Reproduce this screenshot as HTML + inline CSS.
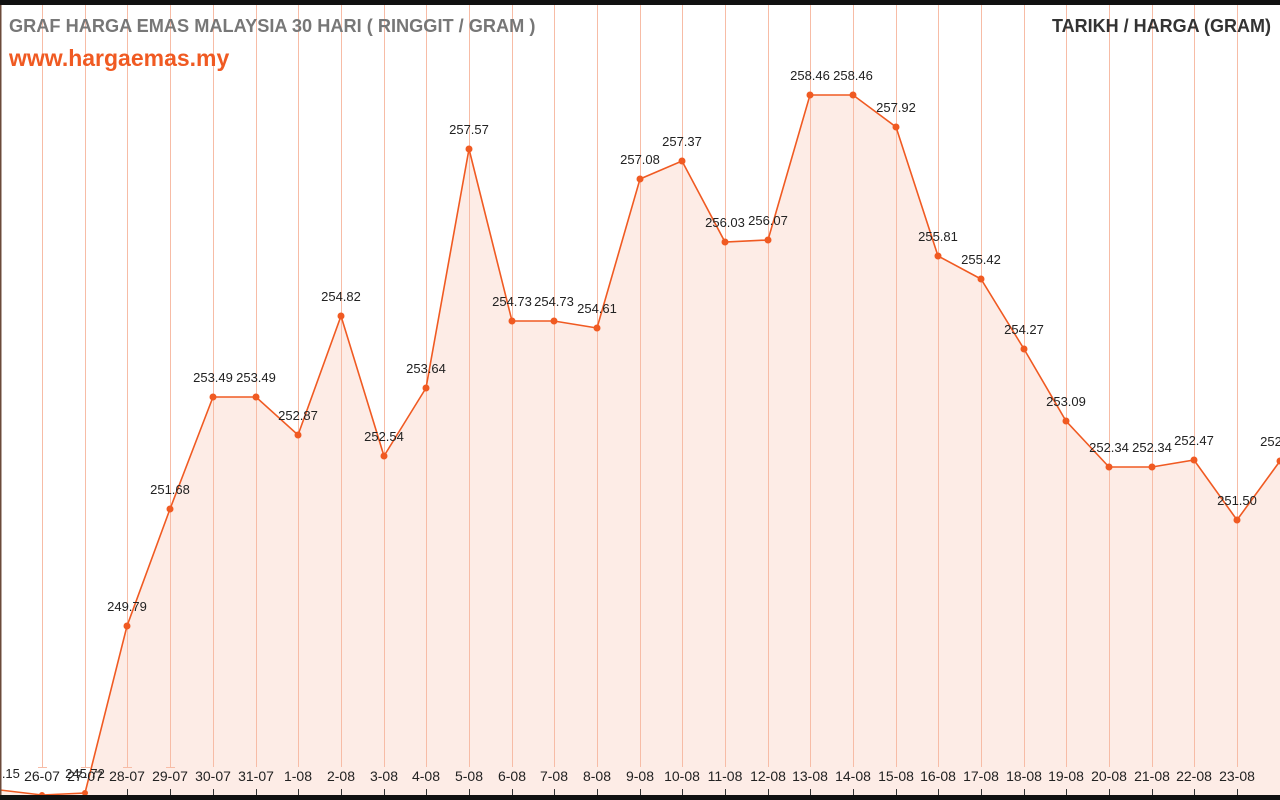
<!DOCTYPE html>
<html><head><meta charset="utf-8"><style>
html,body{margin:0;padding:0;background:#fff;width:1280px;height:800px;overflow:hidden}
svg{display:block;font-family:"Liberation Sans",sans-serif}
</style></head><body>
<svg width="1280" height="800" viewBox="0 0 1280 800">
<rect x="0" y="0" width="1280" height="800" fill="#fff"/>
<polygon fill="#fdece6" points="0,790 42,795 85,793 127,626 170,509 213,397 256,397 298,435 341,316 384,456 426,388 469,149 512,321 554,321 597,328 640,179 682,161 725,242 768,240 810,95 853,95 896,127 938,256 981,279 1024,349 1066,421 1109,467 1152,467 1194,460 1237,520 1280,461 1280,795 0,795"/>
<g stroke="#f7bca6" stroke-width="1">
<line x1="42.5" y1="5" x2="42.5" y2="767"/><line x1="85.5" y1="5" x2="85.5" y2="767"/><line x1="127.5" y1="5" x2="127.5" y2="767"/><line x1="170.5" y1="5" x2="170.5" y2="767"/><line x1="213.5" y1="5" x2="213.5" y2="767"/><line x1="256.5" y1="5" x2="256.5" y2="767"/><line x1="298.5" y1="5" x2="298.5" y2="767"/><line x1="341.5" y1="5" x2="341.5" y2="767"/><line x1="384.5" y1="5" x2="384.5" y2="767"/><line x1="426.5" y1="5" x2="426.5" y2="767"/><line x1="469.5" y1="5" x2="469.5" y2="767"/><line x1="512.5" y1="5" x2="512.5" y2="767"/><line x1="554.5" y1="5" x2="554.5" y2="767"/><line x1="597.5" y1="5" x2="597.5" y2="767"/><line x1="640.5" y1="5" x2="640.5" y2="767"/><line x1="682.5" y1="5" x2="682.5" y2="767"/><line x1="725.5" y1="5" x2="725.5" y2="767"/><line x1="768.5" y1="5" x2="768.5" y2="767"/><line x1="810.5" y1="5" x2="810.5" y2="767"/><line x1="853.5" y1="5" x2="853.5" y2="767"/><line x1="896.5" y1="5" x2="896.5" y2="767"/><line x1="938.5" y1="5" x2="938.5" y2="767"/><line x1="981.5" y1="5" x2="981.5" y2="767"/><line x1="1024.5" y1="5" x2="1024.5" y2="767"/><line x1="1066.5" y1="5" x2="1066.5" y2="767"/><line x1="1109.5" y1="5" x2="1109.5" y2="767"/><line x1="1152.5" y1="5" x2="1152.5" y2="767"/><line x1="1194.5" y1="5" x2="1194.5" y2="767"/><line x1="1237.5" y1="5" x2="1237.5" y2="767"/>
</g>
<g stroke="#f7bca6" stroke-width="1">
<line x1="38" y1="767.5" x2="47" y2="767.5"/><line x1="81" y1="767.5" x2="90" y2="767.5"/><line x1="123" y1="767.5" x2="132" y2="767.5"/><line x1="166" y1="767.5" x2="175" y2="767.5"/>
</g>
<g stroke="#333" stroke-width="1">
<line x1="127.5" y1="789" x2="127.5" y2="795"/><line x1="170.5" y1="789" x2="170.5" y2="795"/><line x1="213.5" y1="789" x2="213.5" y2="795"/><line x1="256.5" y1="789" x2="256.5" y2="795"/><line x1="298.5" y1="789" x2="298.5" y2="795"/><line x1="341.5" y1="789" x2="341.5" y2="795"/><line x1="384.5" y1="789" x2="384.5" y2="795"/><line x1="426.5" y1="789" x2="426.5" y2="795"/><line x1="469.5" y1="789" x2="469.5" y2="795"/><line x1="512.5" y1="789" x2="512.5" y2="795"/><line x1="554.5" y1="789" x2="554.5" y2="795"/><line x1="597.5" y1="789" x2="597.5" y2="795"/><line x1="640.5" y1="789" x2="640.5" y2="795"/><line x1="682.5" y1="789" x2="682.5" y2="795"/><line x1="725.5" y1="789" x2="725.5" y2="795"/><line x1="768.5" y1="789" x2="768.5" y2="795"/><line x1="810.5" y1="789" x2="810.5" y2="795"/><line x1="853.5" y1="789" x2="853.5" y2="795"/><line x1="896.5" y1="789" x2="896.5" y2="795"/><line x1="938.5" y1="789" x2="938.5" y2="795"/><line x1="981.5" y1="789" x2="981.5" y2="795"/><line x1="1024.5" y1="789" x2="1024.5" y2="795"/><line x1="1066.5" y1="789" x2="1066.5" y2="795"/><line x1="1109.5" y1="789" x2="1109.5" y2="795"/><line x1="1152.5" y1="789" x2="1152.5" y2="795"/><line x1="1194.5" y1="789" x2="1194.5" y2="795"/><line x1="1237.5" y1="789" x2="1237.5" y2="795"/>
</g>
<polyline fill="none" stroke="#f05a22" stroke-width="1.6" points="0,790 42,795 85,793 127,626 170,509 213,397 256,397 298,435 341,316 384,456 426,388 469,149 512,321 554,321 597,328 640,179 682,161 725,242 768,240 810,95 853,95 896,127 938,256 981,279 1024,349 1066,421 1109,467 1152,467 1194,460 1237,520 1280,461"/>
<g fill="#f05a22">
<circle cx="42" cy="795" r="3"/><circle cx="85" cy="793" r="3"/><circle cx="127" cy="626" r="3.5"/><circle cx="170" cy="509" r="3.5"/><circle cx="213" cy="397" r="3.5"/><circle cx="256" cy="397" r="3.5"/><circle cx="298" cy="435" r="3.5"/><circle cx="341" cy="316" r="3.5"/><circle cx="384" cy="456" r="3.5"/><circle cx="426" cy="388" r="3.5"/><circle cx="469" cy="149" r="3.5"/><circle cx="512" cy="321" r="3.5"/><circle cx="554" cy="321" r="3.5"/><circle cx="597" cy="328" r="3.5"/><circle cx="640" cy="179" r="3.5"/><circle cx="682" cy="161" r="3.5"/><circle cx="725" cy="242" r="3.5"/><circle cx="768" cy="240" r="3.5"/><circle cx="810" cy="95" r="3.5"/><circle cx="853" cy="95" r="3.5"/><circle cx="896" cy="127" r="3.5"/><circle cx="938" cy="256" r="3.5"/><circle cx="981" cy="279" r="3.5"/><circle cx="1024" cy="349" r="3.5"/><circle cx="1066" cy="421" r="3.5"/><circle cx="1109" cy="467" r="3.5"/><circle cx="1152" cy="467" r="3.5"/><circle cx="1194" cy="460" r="3.5"/><circle cx="1237" cy="520" r="3.5"/><circle cx="1280" cy="461" r="3.5"/>
</g>
<g font-size="13" fill="#222" text-anchor="middle">
<text x="127" y="611">249.79</text><text x="170" y="494">251.68</text><text x="213" y="382">253.49</text><text x="256" y="382">253.49</text><text x="298" y="420">252.87</text><text x="341" y="301">254.82</text><text x="384" y="441">252.54</text><text x="426" y="373">253.64</text><text x="469" y="134">257.57</text><text x="512" y="306">254.73</text><text x="554" y="306">254.73</text><text x="597" y="313">254.61</text><text x="640" y="164">257.08</text><text x="682" y="146">257.37</text><text x="725" y="227">256.03</text><text x="768" y="225">256.07</text><text x="810" y="80">258.46</text><text x="853" y="80">258.46</text><text x="896" y="112">257.92</text><text x="938" y="241">255.81</text><text x="981" y="264">255.42</text><text x="1024" y="334">254.27</text><text x="1066" y="406">253.09</text><text x="1109" y="452">252.34</text><text x="1152" y="452">252.34</text><text x="1194" y="445">252.47</text><text x="1237" y="505">251.50</text><text x="1280" y="446">252.27</text>
<text x="0" y="778">246.15</text><text x="85" y="778">245.72</text>
</g>
<g font-size="14" fill="#222" text-anchor="middle">
<text x="42" y="781">26-07</text><text x="85" y="781">27-07</text><text x="127" y="781">28-07</text><text x="170" y="781">29-07</text><text x="213" y="781">30-07</text><text x="256" y="781">31-07</text><text x="298" y="781">1-08</text><text x="341" y="781">2-08</text><text x="384" y="781">3-08</text><text x="426" y="781">4-08</text><text x="469" y="781">5-08</text><text x="512" y="781">6-08</text><text x="554" y="781">7-08</text><text x="597" y="781">8-08</text><text x="640" y="781">9-08</text><text x="682" y="781">10-08</text><text x="725" y="781">11-08</text><text x="768" y="781">12-08</text><text x="810" y="781">13-08</text><text x="853" y="781">14-08</text><text x="896" y="781">15-08</text><text x="938" y="781">16-08</text><text x="981" y="781">17-08</text><text x="1024" y="781">18-08</text><text x="1066" y="781">19-08</text><text x="1109" y="781">20-08</text><text x="1152" y="781">21-08</text><text x="1194" y="781">22-08</text><text x="1237" y="781">23-08</text>
</g>
<rect x="0" y="0" width="1280" height="5" fill="#111"/>
<rect x="0" y="795" width="1280" height="5" fill="#111"/>
<rect x="0" y="5" width="1.5" height="790" fill="#6b4a3a"/>
<text x="9" y="32" font-size="18.2" font-weight="bold" fill="#777">GRAF HARGA EMAS MALAYSIA 30 HARI ( RINGGIT / GRAM )</text>
<text x="9" y="66" font-size="23" font-weight="bold" fill="#f05a22">www.hargaemas.my</text>
<text x="1271" y="32" font-size="18" font-weight="bold" fill="#333" text-anchor="end">TARIKH / HARGA (GRAM)</text>
</svg>
</body></html>
